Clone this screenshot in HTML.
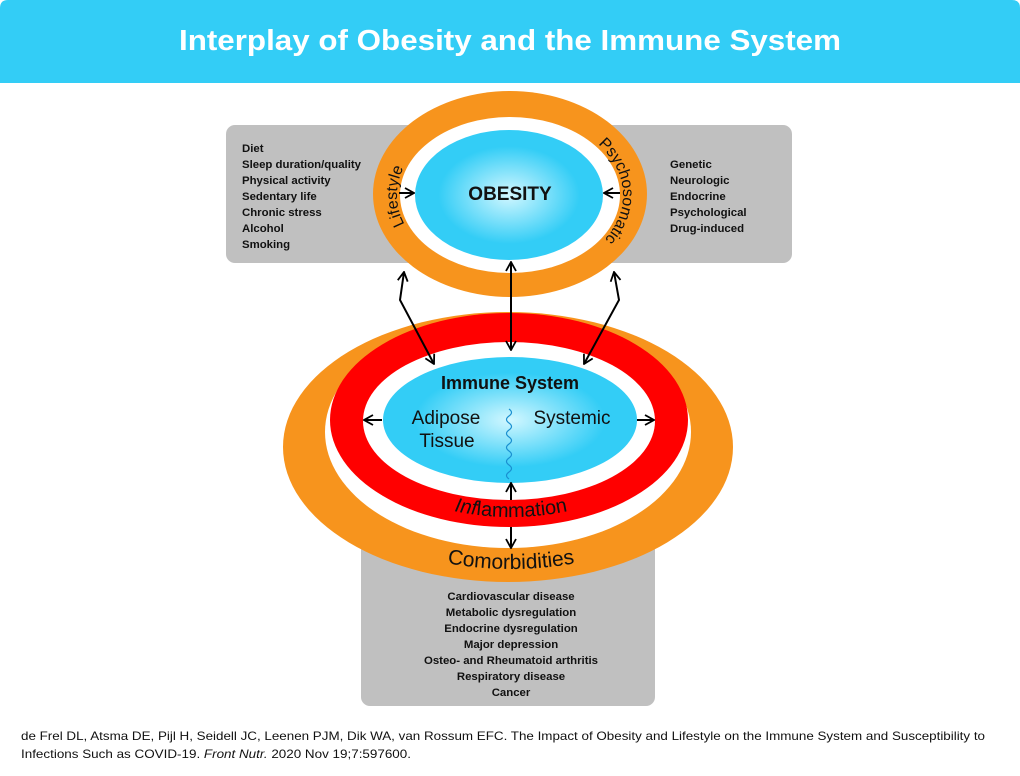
<!DOCTYPE html>
<html><head><meta charset="utf-8"><style>
html,body{margin:0;padding:0;background:#fff}
svg{display:block}
text{font-family:"Liberation Sans",Arial,sans-serif}
</style></head><body>
<svg width="1020" height="776" viewBox="0 0 1020 776" xmlns="http://www.w3.org/2000/svg">
<defs>
<radialGradient id="bg" cx="50%" cy="50%" r="50%">
<stop offset="0" stop-color="#d2f7ff"/><stop offset="0.75" stop-color="#33cdf6"/><stop offset="1" stop-color="#33cdf6"/>
</radialGradient>
<path id="topring" d="M510,276 A113,81 0 0 1 397,195 A113,81 0 0 1 510,114 A113,81 0 0 1 623,195 A113,81 0 0 1 510,276"/>
<path id="infl" d="M346,420 A165,97 0 0 0 676,420"/>
<path id="como" d="M295,440 A216,129 0 0 0 727,440"/>
<marker id="ah" viewBox="0 0 12 12" refX="11" refY="6" markerWidth="12" markerHeight="12" orient="auto-start-reverse" markerUnits="userSpaceOnUse">
<path d="M2,1 L11,6 L2,11" fill="none" stroke="#000" stroke-width="1.8"/>
</marker>
</defs>
<path d="M0,8 Q0,0 8,0 L1012,0 Q1020,0 1020,8 L1020,83 L0,83 Z" fill="#33cdf6"/>
<text x="510" y="50" text-anchor="middle" font-size="29" font-weight="bold" fill="#fff" textLength="662" lengthAdjust="spacingAndGlyphs">Interplay of Obesity and the Immune System</text>

<rect x="226" y="125" width="566" height="138" rx="9" fill="#c0c0c0"/>
<rect x="361" y="520" width="294" height="186" rx="9" fill="#c0c0c0"/>

<ellipse cx="508" cy="447" rx="225" ry="135" fill="#f7941d"/>
<ellipse cx="508" cy="432" rx="183" ry="116" fill="#fff"/>
<ellipse cx="509" cy="420" rx="179" ry="107" fill="#ff0000"/>
<ellipse cx="509" cy="421" rx="146" ry="79" fill="#fff"/>
<ellipse cx="510" cy="420" rx="127" ry="63" fill="url(#bg)"/>

<ellipse cx="510" cy="194" rx="137" ry="103" fill="#f7941d"/>
<ellipse cx="510" cy="195" rx="110" ry="78" fill="#fff"/>
<ellipse cx="509" cy="195" rx="94" ry="65" fill="url(#bg)"/>

<g font-size="11.4" font-weight="bold" fill="#111">
<text x="242" y="152">Diet</text>
<text x="242" y="168">Sleep duration/quality</text>
<text x="242" y="184">Physical activity</text>
<text x="242" y="200">Sedentary life</text>
<text x="242" y="216">Chronic stress</text>
<text x="242" y="232">Alcohol</text>
<text x="242" y="248">Smoking</text>
<text x="670" y="168">Genetic</text>
<text x="670" y="184">Neurologic</text>
<text x="670" y="200">Endocrine</text>
<text x="670" y="216">Psychological</text>
<text x="670" y="232">Drug-induced</text>
<g text-anchor="middle">
<text x="511" y="600">Cardiovascular disease</text>
<text x="511" y="616">Metabolic dysregulation</text>
<text x="511" y="632">Endocrine dysregulation</text>
<text x="511" y="648">Major depression</text>
<text x="511" y="664">Osteo- and Rheumatoid arthritis</text>
<text x="511" y="680">Respiratory disease</text>
<text x="511" y="696">Cancer</text>
</g>
</g>

<text font-size="16" fill="#111"><textPath href="#topring" startOffset="152" text-anchor="middle">Lifestyle</textPath></text>
<text font-size="16" fill="#111"><textPath href="#topring" startOffset="455" text-anchor="middle">Psychosomatic</textPath></text>
<text font-size="20" fill="#111"><textPath href="#infl" startOffset="50%" text-anchor="middle"><tspan font-style="italic">Inf</tspan>lammation</textPath></text>
<text font-size="21" fill="#111"><textPath href="#como" startOffset="50%" text-anchor="middle">Comorbidities</textPath></text>

<text x="510" y="200" text-anchor="middle" font-size="19" font-weight="bold" fill="#111">OBESITY</text>
<text x="510" y="389" text-anchor="middle" font-size="18" font-weight="bold" fill="#111">Immune System</text>
<text x="446" y="424" text-anchor="middle" font-size="19" fill="#111">Adipose</text>
<text x="447" y="447" text-anchor="middle" font-size="19" fill="#111">Tissue</text>
<text x="572" y="424" text-anchor="middle" font-size="19" fill="#111">Systemic</text>

<path d="M509,409 q5,3.5 0,7 q-5,3.5 0,7 q5,3.5 0,7 q-5,3.5 0,7 q5,3.5 0,7 q-5,3.5 0,7 q5,3.5 0,7 q-5,3.5 0,7 q5,3.5 0,7 q-5,3.5 0,7" fill="none" stroke="#1a8fd0" stroke-width="1.2"/>

<g stroke="#000" stroke-width="2" fill="none">
<line x1="399" y1="193" x2="414" y2="193" marker-end="url(#ah)"/>
<line x1="620" y1="193" x2="604" y2="193" marker-end="url(#ah)"/>
<line x1="511" y1="262" x2="511" y2="350" marker-start="url(#ah)" marker-end="url(#ah)"/>
<polyline points="404,272 400,300 434,364" marker-start="url(#ah)" marker-end="url(#ah)"/>
<polyline points="614,272 619,300 584,364" marker-start="url(#ah)" marker-end="url(#ah)"/>
<line x1="382" y1="420" x2="364" y2="420" marker-end="url(#ah)"/>
<line x1="637" y1="420" x2="654" y2="420" marker-end="url(#ah)"/>
<line x1="511" y1="500" x2="511" y2="483" marker-end="url(#ah)"/>
<line x1="511" y1="527" x2="511" y2="548" marker-end="url(#ah)"/>
</g>

<text x="21" y="740" font-size="12" fill="#111" textLength="964" lengthAdjust="spacingAndGlyphs">de Frel DL, Atsma DE, Pijl H, Seidell JC, Leenen PJM, Dik WA, van Rossum EFC. The Impact of Obesity and Lifestyle on the Immune System and Susceptibility to</text>
<text x="21" y="758" font-size="12" fill="#111" textLength="390" lengthAdjust="spacingAndGlyphs">Infections Such as COVID-19. <tspan font-style="italic">Front Nutr.</tspan> 2020 Nov 19;7:597600.</text>
</svg>
</body></html>
